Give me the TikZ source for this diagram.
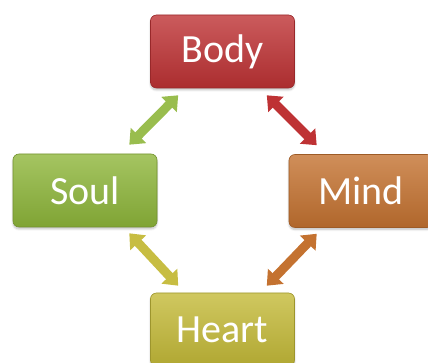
\documentclass[tikz,border=0pt]{standalone}
\usepackage{fontspec}
\setmainfont{Carlito}
\usepackage{xcolor}
\usepackage{tikz}
\usetikzlibrary{shapes,arrows,positioning,shadows.blur,calc,arrows.meta}

\definecolor{bodyred}{RGB}{190,50,52}
\definecolor{soulgreen}{RGB}{142,182,58}
\definecolor{mindorange}{RGB}{196,114,48}
\definecolor{heartyellow}{RGB}{196,186,56}

\begin{document}
\begin{tikzpicture}[x=1pt,y=1pt,
        component/.style={
                rectangle,
                rounded corners=6pt,
                minimum width=144pt,
                minimum height=73pt,
                line width=0.6pt,
                text=white,
                font=\fontsize{40}{48}\selectfont,
                blur shadow={shadow xshift=0pt,shadow yshift=-2pt,shadow blur steps=6,shadow opacity=25},
        },
        link/.style={
                line width=9pt,
                {Triangle[width=21pt,length=13pt]}-{Triangle[width=21pt,length=13pt]},
        }]
            \useasboundingbox (0,0) rectangle (428,363);
            \node[component, draw=bodyred!80!black, top color=bodyred!80!white, middle color=bodyred, bottom color=bodyred!90!black] (body) at (222.5,311.5) {Body};
            \node[component, draw=soulgreen!80!black, top color=soulgreen!80!white, middle color=soulgreen, bottom color=soulgreen!90!black] (soul) at (85,172.5) {Soul};
            \node[component, draw=mindorange!80!black, top color=mindorange!80!white, middle color=mindorange, bottom color=mindorange!90!black] (mind) at (361,172) {Mind};
            \node[component, draw=heartyellow!80!black, top color=heartyellow!80!white, middle color=heartyellow, bottom color=heartyellow!90!black] (heart) at (222.5,33.5) {Heart};
            % connectors
            \draw[link, soulgreen!90!white] ([xshift=28pt,yshift=-7pt]body.south west) -- ([xshift=-28pt,yshift=9pt]soul.north east);
            \draw[link, bodyred] ([xshift=-28pt,yshift=-7pt]body.south east) -- ([xshift=28pt,yshift=9pt]mind.north west);
            \draw[link, heartyellow!95!white] ([xshift=-28pt,yshift=-6pt]soul.south east) -- ([xshift=28pt,yshift=7pt]heart.north west);
            \draw[link, mindorange] ([xshift=28pt,yshift=-6pt]mind.south west) -- ([xshift=-28pt,yshift=7pt]heart.north east);
        \end{tikzpicture}
\end{document}
